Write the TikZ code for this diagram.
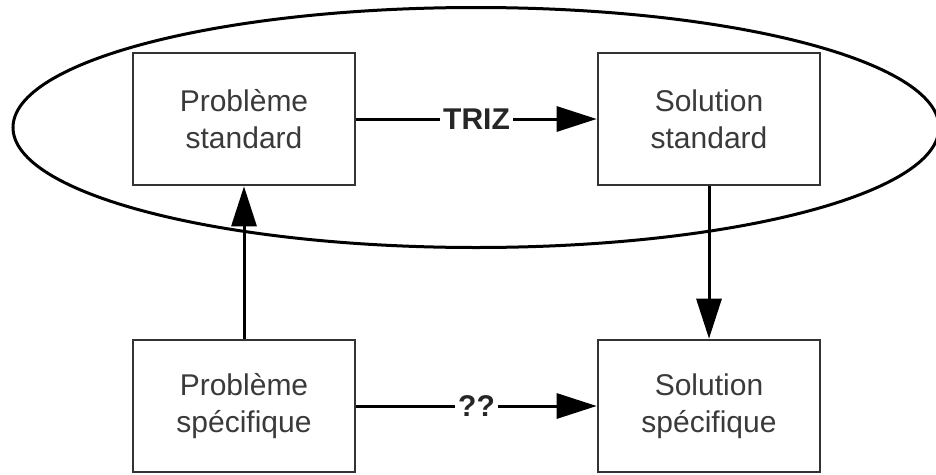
\documentclass[tikz,border=0pt]{standalone}
\usepackage{fontspec}
\setmainfont{Liberation Sans}
\usetikzlibrary{arrows.meta,shapes.geometric}
\definecolor{txt}{HTML}{3A3A3A}
\definecolor{bd}{HTML}{333333}
\begin{document}
\begin{tikzpicture}[x=1pt,y=-1pt,
  boxnode/.style={draw=bd,line width=2.6pt,minimum width=222pt,minimum height=132pt,inner sep=0pt,
    align=center,text=txt,font=\fontsize{30pt}{37pt}\selectfont},
  conn/.style={line width=3pt,-{Triangle[length=40pt,width=25pt]}},
  lbl/.style={fill=white,inner sep=3pt,font=\fontsize{30pt}{36pt}\selectfont\bfseries,text=black!85}]
\useasboundingbox (0,0) rectangle (936,474);
\node[draw,ellipse,line width=3pt,minimum width=926pt,minimum height=240pt,inner sep=0pt] (grp) at (476,127.5) {};
\node[boxnode] (ps) at (244,119) {Problème\\standard};
\node[boxnode] (ss) at (709,119) {Solution\\standard};
\node[boxnode] (pp) at (244,406) {Problème\\spécifique};
\node[boxnode] (sp) at (709,406) {Solution\\spécifique};
\draw[conn] (ps.east) -- node[lbl] {TRIZ} (ss.west);
\draw[conn] (pp.east) -- node[lbl] {??} (sp.west);
\draw[conn] (pp.north) -- (ps.south);
\draw[conn] (ss.south) -- (sp.north);
\end{tikzpicture}
\end{document}
